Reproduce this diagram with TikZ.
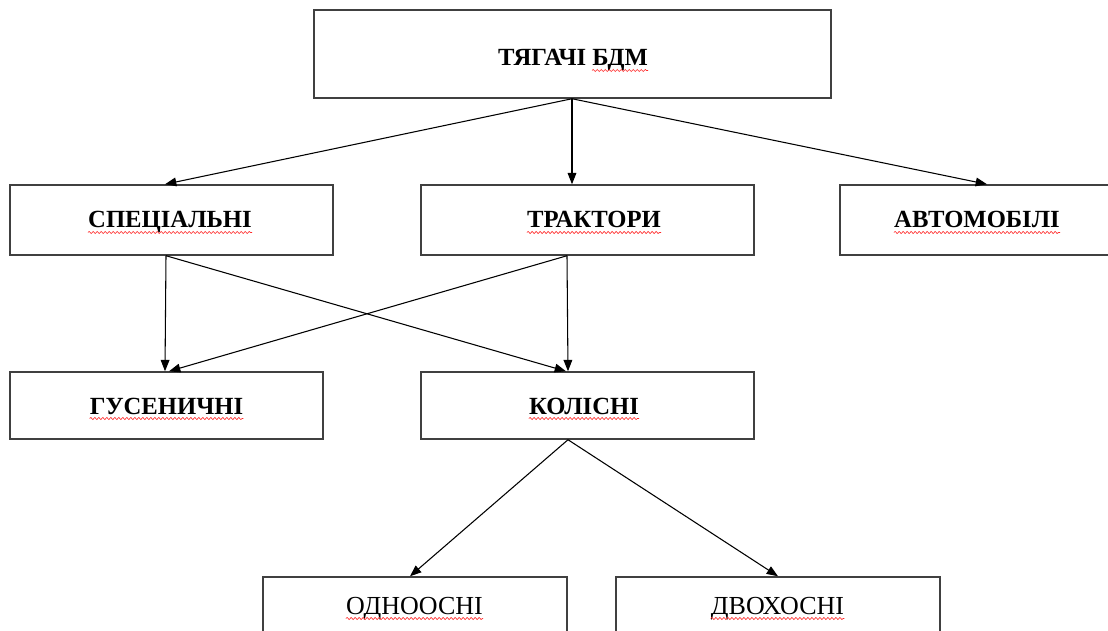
\documentclass[tikz,border=0pt]{standalone}
\usepackage{fontspec}
\setmainfont{Liberation Serif}
\usetikzlibrary{arrows.meta,calc,decorations.pathmorphing}
\begin{document}
\begin{tikzpicture}[x=0.75pt,y=-0.75pt,
  box/.style={draw=black!75,line width=1.1pt,rectangle,inner sep=0pt},
  lbl/.style={inner sep=0pt,font=\bfseries\fontsize{18.5}{20}\selectfont},
  lblr/.style={inner sep=0pt,font=\fontsize{19.5}{21}\selectfont},
  arr/.style={line width=0.8pt,-{Triangle[length=8.5pt,width=6.5pt]}},
  squig/.style={draw=red!85,line width=0.45pt,decorate,decoration={snake,segment length=3pt,amplitude=0.8pt}}]
\useasboundingbox (0,0) rectangle (1108,631);
\clip (0,0) rectangle (1108,631);
% boxes
\node[box,minimum width=517*0.75pt,minimum height=88*0.75pt] (top) at (572.5,54) {};
\node[box,minimum width=323*0.75pt,minimum height=70*0.75pt] (spec) at (171.5,220) {};
\node[box,minimum width=333*0.75pt,minimum height=70*0.75pt] (trak) at (587.5,220) {};
\node[box,minimum width=274*0.75pt,minimum height=70*0.75pt] (avto) at (977,220) {};
\node[box,minimum width=313*0.75pt,minimum height=67*0.75pt] (gus) at (166.5,405.5) {};
\node[box,minimum width=333*0.75pt,minimum height=67*0.75pt] (kol) at (587.5,405.5) {};
\node[box,minimum width=304*0.75pt,minimum height=67*0.75pt] (odn) at (415,610.5) {};
\node[box,minimum width=324*0.75pt,minimum height=67*0.75pt] (dvo) at (778,610.5) {};
% labels
\node[lbl,anchor=base east] (t0a) at (586.5,66) {ТЯГАЧІ};
\node[lbl,anchor=base west] (t0b) at (592,66) {БДМ};
\node[lbl,anchor=base] (t1) at (170,228) {СПЕЦІАЛЬНІ};
\node[lbl,anchor=base] (t2) at (594,228) {ТРАКТОРИ};
\node[lbl,anchor=base] (t3) at (977,228) {АВТОМОБІЛІ};
\node[lbl,anchor=base] (t4) at (166.5,414) {ГУСЕНИЧНІ};
\node[lbl,anchor=base] (t5) at (584,414) {КОЛІСНІ};
\node[lblr,anchor=base] (t6) at (414.5,614) {ОДНООСНІ};
\node[lblr,anchor=base] (t7) at (777.5,614) {ДВОХОСНІ};
% spell-check underlines
\foreach \t in {t0b,t1,t2,t3,t4,t5,t6,t7}
  \draw[squig] ($(\t.base west)+(0,4.5)$) -- ($(\t.base east)+(0,4.5)$);
% connection points
\coordinate (topS) at ($(top.south)+(-0.5,0)$);
\coordinate (specN) at ($(spec.north)+(-6.5,0)$);
\coordinate (trakN) at ($(trak.north)+(-15.5,0)$);
\coordinate (avtoN) at ($(avto.north)+(10,0)$);
\coordinate (specS) at ($(spec.south)+(-5.5,0)$);
\coordinate (trakS) at ($(trak.south)+(-20.5,0)$);
\coordinate (gusN1) at ($(gus.north)+(-1.5,0)$);
\coordinate (gusN2) at ($(gus.north)+(2.5,0)$);
\coordinate (kolN1) at ($(kol.north)+(-21.5,0)$);
\coordinate (kolN2) at ($(kol.north)+(-19.5,0)$);
\coordinate (kolS) at ($(kol.south)+(-19.5,0)$);
\coordinate (odnN) at ($(odn.north)+(-5,0)$);
\coordinate (dvoN) at ($(dvo.north)+(0,0)$);
% arrows
\draw[arr] (topS) -- (specN);
\draw[arr] (topS) -- (trakN);
\draw[arr] (topS) -- (avtoN);
\draw[arr] (specS) -- (gusN1);
\draw[arr] (specS) -- (kolN1);
\draw[arr] (trakS) -- (gusN2);
\draw[arr] (trakS) -- (kolN2);
\draw[arr] (kolS) -- (odnN);
\draw[arr] (kolS) -- (dvoN);
\end{tikzpicture}
\end{document}
